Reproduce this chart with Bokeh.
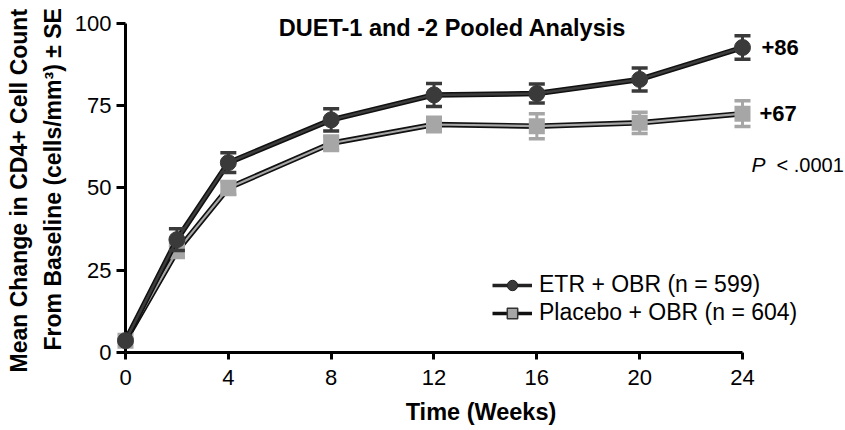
import numpy as np
from bokeh.plotting import figure
from bokeh.models import (ColumnDataSource, Range1d, FixedTicker, Legend, LegendItem, Label, Title)
from bokeh.embed import file_html
from bokeh.resources import INLINE

# ---- data ----
weeks = [0, 2, 4, 8, 12, 16, 20, 24]
etr_mean = [3.6, 34.3, 57.7, 70.7, 78.3, 78.7, 83.0, 92.7]
etr_se = [0.0, 3.3, 3.0, 3.4, 3.5, 2.9, 3.5, 3.6]
pbo_mean = [3.6, 30.8, 50.0, 63.6, 69.3, 68.8, 69.8, 72.6]
pbo_se = [0.0, 1.8, 2.0, 2.2, 2.2, 3.8, 3.2, 3.9]
x_ticks = [0, 4, 8, 12, 16, 20, 24]
y_ticks = [0, 25, 50, 75, 100]
end_labels = ["+86", "+67"]
series_names = ["ETR + OBR (n = 599)", "Placebo + OBR (n = 604)"]
title_text = "DUET-1 and -2 Pooled Analysis"
y_title_lines = ["Mean Change in CD4+ Cell Count", "From Baseline (cells/mm\u00b3) \u00b1 SE"]
p_text = "< .0001"
p_value_y = 57

ETR_C = "#3a3a3a"
PBO_C = "#a6a6a6"
FONT = "Liberation Sans"

# frame: left edge 9px left of week 0, right edge at figure edge, top at figure top
X_START, X_END = -0.35, 28.007
Y_START, Y_END = 0, 106.99

p = figure(width=845, height=430, output_backend="svg", toolbar_location=None,
           x_range=Range1d(X_START, X_END), y_range=Range1d(Y_START, Y_END),
           min_border_left=116, min_border_right=0, min_border_top=0,
           min_border_bottom=78)
p.outline_line_color = None
p.xgrid.visible = False
p.ygrid.visible = False
p.background_fill_color = "white"

for ax in (p.xaxis[0], p.yaxis[0]):
    ax.major_tick_line_width = 3
    ax.major_tick_line_color = "black"
    ax.minor_tick_line_color = None
    ax.major_label_text_font = FONT
    ax.major_label_text_font_size = "22px"
    ax.major_label_text_color = "black"
    ax.axis_label_text_font = FONT
    ax.axis_label_text_font_style = "bold"
    ax.axis_label_text_color = "black"

p.xaxis.ticker = FixedTicker(ticks=x_ticks)
p.yaxis.ticker = FixedTicker(ticks=y_ticks)
p.xaxis.bounds = (x_ticks[0], x_ticks[-1])
p.xaxis.axis_line_width = 3
p.xaxis.axis_line_color = "black"
p.xaxis.major_tick_in = 0
p.xaxis.major_tick_out = 7
p.xaxis.major_label_standoff = 10
p.xaxis.axis_label = "Time (Weeks)"
p.xaxis.axis_label_text_font_size = "23.5px"
p.xaxis.axis_label_standoff = 11

# y axis sits at frame edge; its line is drawn at week 0 below, ticks reach inward to it
p.yaxis.axis_line_color = None
p.yaxis.major_tick_in = 9
p.yaxis.major_tick_out = 0
p.yaxis.major_label_standoff = 5

# y axis title as two side titles (first added sits nearest the axis)
for line, off, so in ((y_title_lines[1], 2, 12), (y_title_lines[0], -20, 0)):
    p.add_layout(Title(text=line, align="left", offset=off, standoff=so,
                       text_font=FONT, text_font_size="23px", text_font_style="bold",
                       text_color="black"), "left")

# y axis line at week 0
p.segment(x0=[x_ticks[0]], y0=[y_ticks[0]], x1=[x_ticks[0]], y1=[y_ticks[-1]],
          line_color="black", line_width=3)

w = np.array(weeks, dtype=float)
em, es = np.array(etr_mean), np.array(etr_se)
pm, ps = np.array(pbo_mean), np.array(pbo_se)

# placebo series (below)
p.line(w, pm, line_color="#111111", line_width=5.5)
p.line(w, pm, line_color=PBO_C, line_width=2.2)
p.segment(x0=w[1:], y0=(pm - ps)[1:], x1=w[1:], y1=(pm + ps)[1:], line_color=PBO_C, line_width=3)
p.scatter(w[1:], (pm + ps)[1:], marker="dash", size=16, line_color=PBO_C, line_width=3.5)
p.scatter(w[1:], (pm - ps)[1:], marker="dash", size=16, line_color=PBO_C, line_width=3.5)
p.scatter(w, pm, marker="square", size=16, fill_color=PBO_C, line_color=None)

# ETR series (above)
p.line(w, em, line_color="#111111", line_width=5.5)
p.line(w, em, line_color="#3c3c3c", line_width=2.5)
p.segment(x0=w[1:], y0=(em - es)[1:], x1=w[1:], y1=(em + es)[1:], line_color=ETR_C, line_width=3)
p.scatter(w[1:], (em + es)[1:], marker="dash", size=16, line_color=ETR_C, line_width=3.5)
p.scatter(w[1:], (em - es)[1:], marker="dash", size=16, line_color=ETR_C, line_width=3.5)
p.scatter(w, em, marker="circle", size=16, fill_color=ETR_C, line_color=ETR_C)

# legend-only renderers (no visible data)
empty = ColumnDataSource(data=dict(x=np.array([np.nan]), y=np.array([np.nan])))
l1 = p.line("x", "y", source=empty, line_color="#222222", line_width=3.5)
s1 = p.scatter("x", "y", source=empty, marker="circle", size=15, fill_color=ETR_C,
               line_color="#222222", line_width=1)
l2 = p.line("x", "y", source=empty, line_color="#111111", line_width=3.5)
s2 = p.scatter("x", "y", source=empty, marker="square", size=13, fill_color=PBO_C,
               line_color="#333333", line_width=1.5)
legend = Legend(items=[LegendItem(label=series_names[0], renderers=[l1, s1]),
                       LegendItem(label=series_names[1], renderers=[l2, s2])],
                location=(376, 26), glyph_width=40, glyph_height=26, label_height=26,
                label_standoff=7, spacing=1, padding=0, margin=0,
                border_line_color=None, background_fill_alpha=0,
                label_text_font=FONT, label_text_font_size="23px", label_text_color="black")
p.add_layout(legend)

# end labels
p.add_layout(Label(x=weeks[-1], y=etr_mean[-1], text=end_labels[0], x_offset=19,
                   text_baseline="middle", text_font=FONT, text_font_size="22px",
                   text_font_style="bold", text_color="black"))
p.add_layout(Label(x=weeks[-1], y=pbo_mean[-1], text=end_labels[1], x_offset=17,
                   text_baseline="middle", text_font=FONT, text_font_size="22px",
                   text_font_style="bold", text_color="black"))
# P value
p.add_layout(Label(x=weeks[-1], y=p_value_y, text="P", x_offset=9, text_baseline="middle",
                   text_font=FONT, text_font_size="21px", text_font_style="italic",
                   text_color="black"))
p.add_layout(Label(x=weeks[-1], y=p_value_y, text=p_text, x_offset=34, text_baseline="middle",
                   text_font=FONT, text_font_size="20px", text_color="black"))
# title
p.add_layout(Label(x=12, y=100, text=title_text, x_offset=18.5, y_offset=-5,
                   text_align="center", text_baseline="alphabetic", text_font=FONT,
                   text_font_size="23.5px", text_font_style="bold", text_color="black"))

open("out.html", "w").write(file_html(p, INLINE))
